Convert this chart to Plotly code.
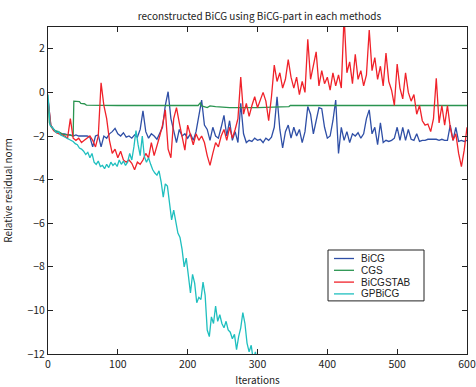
import plotly.graph_objects as go

# ---------------- data ----------------
iters_step4 = list(range(0, 601, 4))

bicg = [
    -0.3, -1.5, -1.7, -1.8, -1.85, -1.9, -1.9, -1.95, -1.95, -2.0,
    -1.95, -2.0, -2.0, -2.0, -2.0, -2.05, -2.5, -2.0, -1.95, -2.5,
    -2.0, -2.1, -1.9, -1.8, -1.65, -1.9, -2.0, -1.85, -2.05, -2.0,
    -2.1, -1.95, -2.05, -1.7, -0.85, -1.8, -2.1, -1.9, -2.0, -2.15,
    -1.9, -1.6, -0.6, 0.03, -1.2, -1.8, -2.3, -1.7, -2.0, -1.9,
    -2.1, -1.9, -2.2, -1.8, -1.1, -0.35, -1.5, -1.7, -2.2, -1.6,
    -2.0, -2.1, -1.6, -1.05, -2.0, -1.3, -2.2, -1.8, -2.3, -0.5,
    -1.9, -2.3, -2.2, -2.25, -2.1, -2.2, -2.15, -2.3, -2.1, -2.2,
    -2.05, -1.6, -0.2, -1.7, -2.55, -1.8, -1.5, -2.1, -1.6, -2.0,
    -1.7, -2.3, -1.8, -0.65, -1.0, -1.9, -1.3, -0.7, -0.75, -1.6,
    -2.1, -2.0, -1.3, -0.35, -2.8, -1.6, -2.2, -1.8, -2.3, -1.9,
    -2.0, -1.85, -2.1, -1.9, -1.2, -0.8, -1.9, -1.6, -2.4, -1.4,
    -2.3, -2.2, -2.25, -2.2, -2.1, -1.6, -2.2, -1.6, -2.2, -1.7,
    -2.15, -2.2, -1.9, -2.25, -2.2, -2.2, -2.15, -2.15, -2.15, -2.15,
    -2.2, -2.15, -2.2, -2.2, -1.5, -2.2, -1.6, -2.25, -2.2, -2.25,
    -2.2,
]

bicgstab = [
    -0.3, -1.5, -1.75, -1.85, -1.9, -1.95, -2.0, -2.1, -1.2, -2.1,
    -2.2, -2.1, -2.3, -2.2, -2.1, -2.0, -2.2, -2.5, -2.0, 0.44,
    -0.6, -1.2, -2.2, -2.8, -2.6, -3.0, -2.7, -3.1, -3.2, -3.1,
    -3.25, -3.55, -3.2, -3.3, -3.1, -2.8, -3.0, -2.3, -2.9, -2.5,
    -2.0, -1.5, -0.8, -2.6, -3.0, -1.2, -0.7, -1.4, -2.0, -2.65,
    -1.5, -2.0, -2.4, -1.9, -2.2, -2.0, -2.3, -2.9, -3.35, -2.8,
    -2.3, -2.5, -2.0, -1.7, -2.2, -1.6, -2.1, -1.7, -1.2, 0.7,
    -1.0, -0.5, -1.1, -0.6, -0.2, -0.7, -0.3, 0.0, -0.4, -1.3,
    -0.2, 1.25, 0.5, 0.9, 0.2, 0.6, 1.5, 0.7, 0.2, 0.7,
    -0.1, 0.5, 0.0, 2.44, 0.6, 1.2, 1.86, 0.3, 1.0, 0.4,
    0.7, 0.1, 0.9, 0.3, 0.8, 0.2, 3.5, 0.9, 1.4, 0.4,
    1.75, 0.6, 1.0, 0.3, 0.8, 2.86, 1.0, 1.6, 0.6, 1.2,
    0.3, 1.8, 0.5, 0.1, -0.6, 1.3, 0.2, -0.3, 0.9, 0.0,
    -0.4, -0.1, -1.0, -0.6, -1.3, -1.5, -1.45, -1.8, -1.2, 0.65,
    -1.4, -0.6, -1.5, -0.6, -1.6, -2.2, -1.9, -2.8, -3.4, -2.65,
    -1.6,
]

iters_gp = list(range(0, 301, 3))
gpbicg = [
    -0.1, -1.5, -1.6, -1.75, -1.85, -1.8, -1.95, -2.0, -2.05, -2.1,
    -2.15, -2.2, -2.25, -2.35, -2.4, -2.55, -2.6, -2.7, -2.85, -2.75,
    -3.0, -2.8, -3.2, -3.3, -3.15, -3.4, -3.35, -3.5, -3.3, -3.45,
    -3.2, -3.35, -3.25, -3.4, -3.1, -3.3, -3.15, -3.35, -3.2, -2.8,
    -3.1, -2.5, -1.75, -2.4, -2.9, -2.0, -2.95, -3.2, -3.0, -3.3,
    -3.55, -3.7, -3.8, -3.6, -4.1, -4.8, -4.2, -4.3, -5.0, -5.85,
    -5.4, -5.9, -6.45, -6.65, -7.2, -8.0, -7.6, -8.4, -9.2, -8.35,
    -8.75, -9.65, -9.4, -9.5, -8.7, -9.3, -10.9, -11.2, -10.3, -10.6,
    -9.8, -10.5, -10.2, -10.6, -10.8, -10.5, -10.9, -11.0, -11.3, -11.1,
    -11.8, -11.2, -10.8, -10.1, -10.6, -11.5, -11.9, -11.6, -12.3, -11.9,
    -12.5,
]

iters_cgs = [0, 2, 5, 10, 15, 20, 25, 30, 36, 37, 45, 47, 52, 55, 100, 150,
             200, 215, 218, 220, 228, 232, 240, 260, 300, 345, 347, 400, 450,
             500, 540, 600]
cgs = [-0.3, -1.4, -1.6, -1.75, -1.8, -1.9, -1.95, -1.95, -2.0, -0.4, -0.42,
       -0.5, -0.52, -0.58, -0.6, -0.6, -0.62, -0.6, -0.48, -0.62, -0.7, -0.62,
       -0.65, -0.7, -0.7, -0.65, -0.6, -0.6, -0.6, -0.6, -0.58, -0.6]

x_ticks = [0, 100, 200, 300, 400, 500, 600]
y_ticks = [-12, -10, -8, -6, -4, -2, 0, 2]

# ---------------- figure ----------------
FONT = "Noto Sans CJK JP, DejaVu Sans, sans-serif"
LEG_FONT = "Liberation Sans, Arial, sans-serif"
fig = go.Figure()
series = [
    ("BiCG", iters_step4, bicg, "#2f4fa6"),
    ("CGS", iters_cgs, cgs, "#2a9450"),
    ("BiCGSTAB", iters_step4, bicgstab, "#f0222a"),
    ("GPBiCG", iters_gp, gpbicg, "#1fbfbf"),
]
for name, xs, ys, col in series:
    fig.add_trace(go.Scatter(x=xs, y=ys, mode="lines", name=name,
                             line=dict(color=col, width=1.3),
                             showlegend=False))

# compact legend box (paper coordinates of the plot area)
PL, PR, PT, PB = 48, 467, 27, 354
def px2x(px):
    return (px - PL) / (PR - PL)
def py2y(py):
    return (PB - py) / (PB - PT)

LEG_FS = 10
row_gap = 11.8
row_y = [258.5 + i * row_gap for i in range(4)]
shapes = [dict(type="rect", xref="paper", yref="paper",
               x0=px2x(328), x1=px2x(424),
               y0=py2y(row_y[-1] + 7), y1=py2y(row_y[0] - 8.5),
               line=dict(color="#222222", width=1), fillcolor="white",
               layer="above")]
annotations = []
for (name, _, _, col), ry in zip(series, row_y):
    shapes.append(dict(type="line", xref="paper", yref="paper",
                       x0=px2x(334), x1=px2x(354), y0=py2y(ry), y1=py2y(ry),
                       line=dict(color=col, width=1.3), layer="above"))
    annotations.append(dict(x=px2x(360), y=py2y(ry), xref="paper",
                            yref="paper", text=name, showarrow=False,
                            xanchor="left", yanchor="middle", borderpad=0,
                            font=dict(family=LEG_FONT, size=LEG_FS,
                                      color="#222222")))

axis_common = dict(showgrid=False, zeroline=False, showline=True,
                   linecolor="#222222", linewidth=1, mirror="ticks",
                   ticks="inside", ticklen=5, tickcolor="#222222",
                   automargin=False, ticklabeloverflow="allow",
                   tickfont=dict(family=FONT, size=10.5, color="#222222"))

fig.update_layout(
    width=476, height=387,
    margin=dict(l=PL, r=476 - PR, t=PT, b=387 - PB),
    paper_bgcolor="white", plot_bgcolor="white",
    font=dict(family=FONT, size=10, color="#222222"),
    title=dict(text="reconstructed BiCG using BiCG-part in each methods",
               x=0.545, xanchor="center", y=0.958, yanchor="middle",
               font=dict(size=10)),
    xaxis=dict(range=[0, 600], tickvals=x_ticks,
               title=dict(text="Iterations", font=dict(size=10)),
               **axis_common),
    yaxis=dict(range=[-12, 3], tickvals=y_ticks,
               title=dict(text="Relative residual norm", font=dict(size=10)),
               **axis_common),
    shapes=shapes,
    annotations=annotations,
    showlegend=False,
)

fig.write_html("out.html")
